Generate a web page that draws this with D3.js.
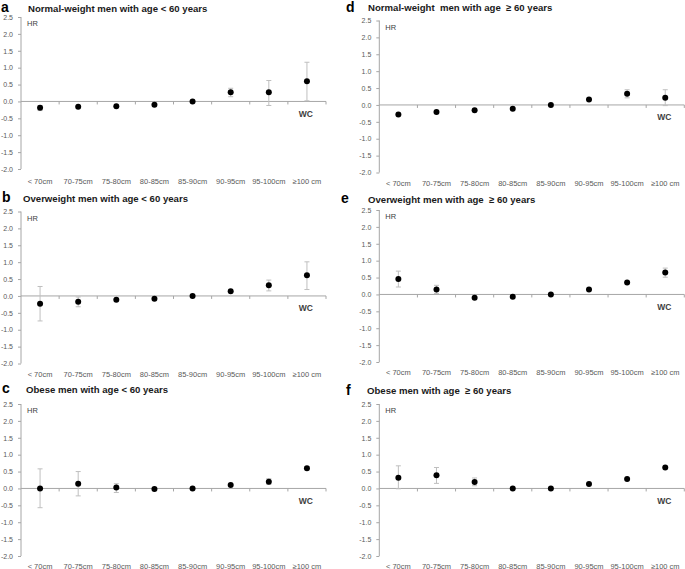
<!DOCTYPE html>
<html><head><meta charset="utf-8">
<script src="https://cdn.jsdelivr.net/npm/d3@7"></script>
<style>body{margin:0;background:#fff}svg{display:block}</style>
</head><body>
<svg id="c" width="685" height="569"></svg>
<script>
const categories = ["< 70cm","70-75cm","75-80cm","80-85cm","85-90cm","90-95cm","95-100cm","\u2265100 cm"];
const yTicks = [2.5,2.0,1.5,1.0,0.5,0.0,-0.5,-1.0,-1.5,-2.0];
const panelLetters = ["a","b","c","d","e","f"];
const panelTitles = [
  "Normal-weight men with age < 60 years",
  "Overweight men with age < 60 years",
  "Obese men with age < 60 years",
  "Normal-weight  men with age  \u2265 60 years",
  "Overweight men with age  \u2265 60 years",
  "Obese men with age  \u2265 60 years"
];
// HR point estimates (log scale as plotted)
const hrA = [-0.19,-0.16,-0.14,-0.10,0.00,0.27,0.27,0.60];
const loA = [-0.27,null,null,null,null,0.14,-0.12,0.02];
const hiA = [-0.12,null,null,null,null,0.39,0.62,1.16];
const hrB = [-0.23,-0.17,-0.11,-0.08,0.00,0.14,0.32,0.61];
const loB = [-0.74,-0.32,null,null,null,null,0.15,0.19];
const hiB = [0.28,-0.03,null,null,null,null,0.47,1.01];
const hrC = [0.00,0.14,0.03,-0.02,0.00,0.10,0.20,0.60];
const loC = [-0.57,-0.22,-0.12,null,null,null,0.12,0.55];
const hiC = [0.58,0.50,0.14,null,null,null,0.29,0.65];
const hrD = [-0.28,-0.21,-0.16,-0.11,0.00,0.16,0.33,0.21];
const loD = [null,null,null,null,null,null,0.21,-0.02];
const hiD = [null,null,null,null,null,null,0.45,0.45];
const hrE = [0.46,0.15,-0.10,-0.07,0.00,0.15,0.35,0.65];
const loE = [0.22,0.03,null,null,null,null,null,0.51];
const hiE = [0.69,0.27,null,null,null,null,null,0.78];
const hrF = [0.32,0.39,0.19,0.00,0.00,0.13,0.28,0.62];
const loF = [-0.01,0.15,0.08,null,null,null,null,null];
const hiF = [0.67,0.62,0.31,null,null,null,null,null];

const series = [[hrA,loA,hiA],[hrB,loB,hiB],[hrC,loC,hiC],[hrD,loD,hiD],[hrE,loE,hiE],[hrF,loF,hiF]];
// layout (pixel placement of each panel)
const layout = [
  {ax:21, top:17, lx:1, tx:28, ty:8, lb:14.5},
  {ax:21, top:211.5, lx:2, tx:23, ty:198, lb:13},
  {ax:21, top:404, lx:2, tx:26, ty:389, lb:12.5},
  {ax:379.3, top:20.5, lx:346, tx:368, ty:7.5, lb:13.5},
  {ax:379.3, top:210, lx:341, tx:368, ty:199, lb:13},
  {ax:379.3, top:404, lx:346, tx:367, ty:390.5, lb:12.5}
];
const W = 305, H = 152;
const svg = d3.select("#c");
const font = "'Liberation Sans', Arial, sans-serif";

layout.forEach((L, i) => {
  const g = svg.append("g");
  const x = d3.scaleBand().domain(categories).range([L.ax, L.ax + W]);
  const y = d3.scaleLinear().domain([-2, 2.5]).range([L.top + H, L.top]);
  const [hr, lo, hi] = series[i];

  // y axis
  const ya = g.append("g").attr("transform", `translate(${L.ax},0)`)
    .call(d3.axisLeft(y).tickValues(yTicks).tickFormat(d3.format(".1f")).tickSize(3).tickPadding(5));
  ya.select(".domain").attr("stroke", "#a6a6a6").attr("d", `M0,${L.top}V${L.top+H}`);
  ya.selectAll(".tick line").attr("stroke", "#a6a6a6");
  ya.selectAll(".tick text").attr("fill", "#595959").style("font-family", font).style("font-size", "7px")
    .text(d => d3.format(".1f")(d).replace("\u2212","-"));

  // x axis at zero
  const y0 = y(0);
  const xa = g.append("g").attr("transform", `translate(0,${y0})`);
  xa.append("line").attr("x1", L.ax).attr("x2", L.ax + W).attr("y1", 0).attr("y2", 0).attr("stroke", "#a6a6a6");
  const bounds = categories.map(c => x(c)).slice(1).concat([L.ax + W]);
  xa.selectAll(".xt").data(bounds).enter().append("line")
    .attr("x1", d => d).attr("x2", d => d).attr("y1", 0).attr("y2", 3).attr("stroke", "#a6a6a6");

  // category labels at bottom
  g.selectAll(".cl").data(categories).enter().append("text")
    .attr("x", d => x(d) + x.bandwidth() / 2).attr("y", L.top + H + L.lb)
    .attr("text-anchor", "middle").attr("fill", "#595959")
    .style("font-family", font).style("font-size", "7.5px").text(d => d);

  // error bars
  const eb = categories.map((c, k) => ({c, lo: lo[k], hi: hi[k]})).filter(d => d.lo !== null);
  const cx = d => x(d.c) + x.bandwidth() / 2;
  const eg = g.selectAll(".eb").data(eb).enter().append("g").attr("stroke", "#bfbfbf").attr("stroke-width", 1);
  eg.append("line").attr("x1", cx).attr("x2", cx).attr("y1", d => y(d.lo)).attr("y2", d => y(d.hi));
  eg.append("line").attr("x1", d => cx(d) - 2.5).attr("x2", d => cx(d) + 2.5).attr("y1", d => y(d.lo)).attr("y2", d => y(d.lo));
  eg.append("line").attr("x1", d => cx(d) - 2.5).attr("x2", d => cx(d) + 2.5).attr("y1", d => y(d.hi)).attr("y2", d => y(d.hi));

  // points
  g.selectAll(".pt").data(categories.map((c, k) => ({c, v: hr[k]}))).enter().append("circle")
    .attr("cx", cx).attr("cy", d => y(d.v)).attr("r", 3).attr("fill", "#000");

  // HR / WC labels
  g.append("text").attr("x", L.ax + 6).attr("y", L.top + 9).attr("fill", "#404040")
    .style("font-family", font).style("font-size", "7.5px").text("HR");
  g.append("text").attr("x", L.ax + W - 13).attr("y", y0 + 15.5).attr("text-anchor", "end").attr("fill", "#404040")
    .style("font-family", font).style("font-size", "8.5px").style("font-weight", "bold").text("WC");

  // letter & title
  svg.append("text").attr("x", L.lx).attr("y", L.ty + 4).style("font-family", font)
    .style("font-size", "14px").style("font-weight", "bold").attr("fill", "#000").text(panelLetters[i]);
  svg.append("text").attr("x", L.tx).attr("y", L.ty + 3.5).style("font-family", font)
    .style("white-space", "pre")
    .style("font-size", "9.6px").style("font-weight", "bold").attr("fill", "#1a1a1a").text(panelTitles[i]);
});
</script>
</body></html>
